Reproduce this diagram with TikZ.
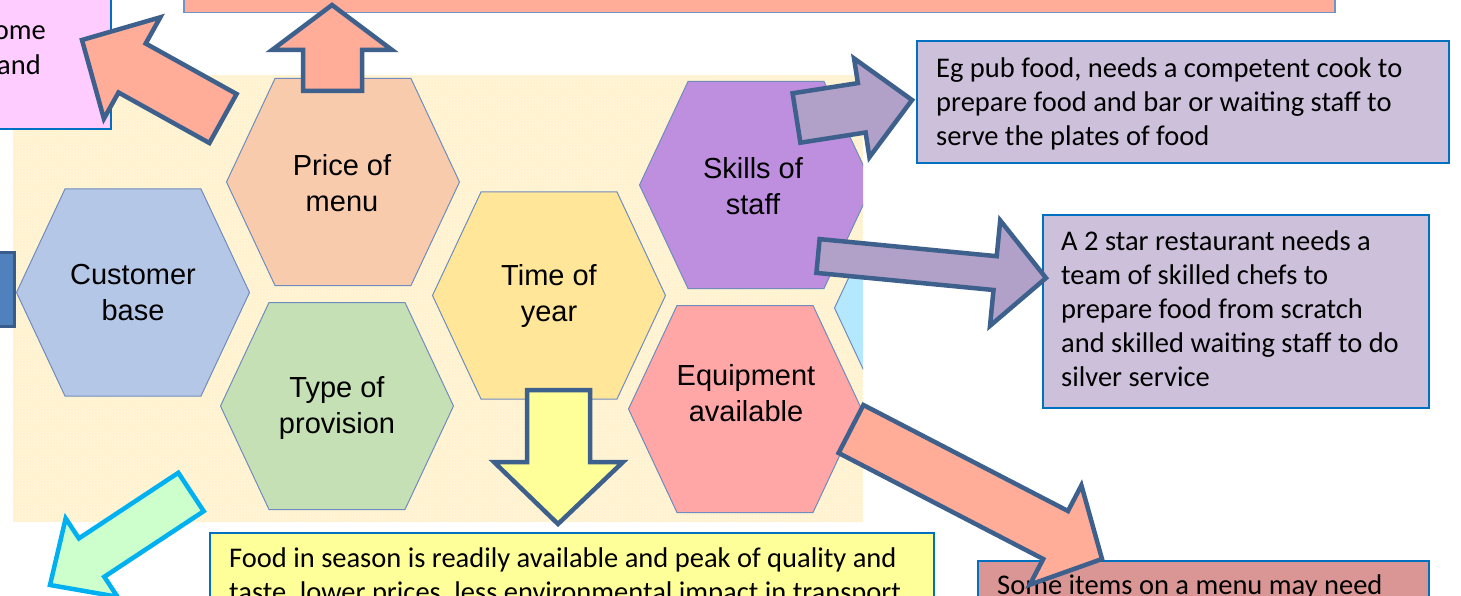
\documentclass[tikz,border=0pt]{standalone}
\usepackage{fontspec}
\setmainfont{Carlito}
\newfontfamily\hexfont{Liberation Sans}
\usetikzlibrary{patterns}

\definecolor{bgcream}{RGB}{255,242,206}
\definecolor{hexedge}{RGB}{112,140,190}
\definecolor{boxedge}{RGB}{0,112,192}
\definecolor{baredge}{RGB}{110,148,200}
\definecolor{arrowedge}{RGB}{62,96,140}
\definecolor{salmon}{RGB}{255,172,152}
\definecolor{pinkbox}{RGB}{255,204,255}
\definecolor{lilacbox}{RGB}{204,192,218}
\definecolor{lilacarrow}{RGB}{177,160,199}
\definecolor{lemon}{RGB}{255,255,153}
\definecolor{rosebox}{RGB}{217,150,148}
\definecolor{mint}{RGB}{204,255,204}
\definecolor{cyanedge}{RGB}{0,176,240}
\definecolor{navyfill}{RGB}{79,129,189}
\definecolor{navyedge}{RGB}{56,93,138}
\definecolor{hexpeach}{RGB}{248,203,173}
\definecolor{hexblue}{RGB}{180,199,231}
\definecolor{hexgreen}{RGB}{197,224,180}
\definecolor{hexyellow}{RGB}{255,230,153}
\definecolor{hexpurple}{RGB}{190,143,222}
\definecolor{hexred}{RGB}{255,166,166}
\definecolor{hexsky}{RGB}{180,232,255}

\newcommand{\hexcell}[3]{\filldraw[hexline,fill=#3] (#1-116.5,#2) -- (#1-68,#2-103.5) -- (#1+68,#2-103.5) -- (#1+116.5,#2) -- (#1+68,#2+103.5) -- (#1-68,#2+103.5) -- cycle;}

\begin{document}
\begin{tikzpicture}[x=1pt,y=-1pt,
        hexline/.style={draw=hexedge,line width=1pt},
        hextext/.style={font=\hexfont\fontsize{29}{36}\selectfont,align=center,inner sep=0pt},
        infobox/.style={draw=boxedge,line width=2pt,anchor=north west,inner sep=0pt},
        infotext/.style={font=\fontsize{28.5}{34}\selectfont,align=left,anchor=north west,inner sep=0pt},
        blockarrow/.style={draw=arrowedge,line width=4.5pt,line join=miter}]
        \useasboundingbox (0,0) rectangle (1461,596);
        \clip (0,0) rectangle (1461,596);
        \fill[bgcream] (13,75) rectangle (863,522);
        \fill[pattern=crosshatch dots,pattern color=white!60!bgcream] (13,75) rectangle (863,522);
        \begin{scope}
            \clip (13,75) rectangle (863,522);
            \hexcell{133}{292.5}{hexblue}
            \hexcell{343}{182}{hexpeach}
            \hexcell{337}{406}{hexgreen}
            \hexcell{549}{295.5}{hexyellow}
            \hexcell{756}{185}{hexpurple}
            \hexcell{745}{409}{hexred}
            \hexcell{951}{308}{hexsky}
        \end{scope}
        \node[hextext] (customer) at (133,293) {Customer\\base};
        \node[hextext] (price) at (342,183) {Price of\\menu};
        \node[hextext] (provision) at (337,408) {Type of\\provision};
        \node[hextext] (season) at (549,296) {Time of\\year};
        \node[hextext] (skills) at (753,186) {Skills of\\staff};
        \node[hextext] (equipment) at (746,393) {Equipment\\available};
        \node[infobox,draw=baredge,line width=1.5pt,fill=salmon,minimum width=1151pt,minimum height=30pt] (topbar) at (183,-18) {};
        \node[infobox,fill=pinkbox,minimum width=120pt,minimum height=138pt] (incomebox) at (-10,-10) {};
        \node[infotext,anchor=base east] (incomeA) at (46,40) {ome};
        \node[infotext,anchor=base east] (incomeB) at (41,75) {and};
        \node[infobox,fill=lilacbox,minimum width=532pt,minimum height=122pt] (pubbox) at (916,40) {};
        \node[infotext] (pubtext) at (936,53.2) {\strut Eg pub food, needs a competent cook to\\prepare food and bar or waiting staff to\\serve the plates of food};
        \node[infobox,fill=lilacbox,minimum width=386pt,minimum height=193pt] (starbox) at (1042,214) {};
        \node[infotext] (startext) at (1061,226.2) {\strut A 2 star restaurant needs a\\team of skilled chefs to\\prepare food from scratch\\and skilled waiting staff to do\\silver service};
        \node[infobox,fill=lemon,minimum width=724pt,minimum height=90pt] (seasonbox) at (209,532) {};
        \node[infotext] (seasontext) at (229,543.2) {\strut Food in season is readily available and peak of quality and\\taste, lower prices, less environmental impact in transport};
        \node[infobox,fill=rosebox,minimum width=451pt,minimum height=60pt] (itemsbox) at (977,560) {};
        \node[infotext] (itemstext) at (997,570.2) {\strut Some items on a menu may need};
        \filldraw[draw=navyedge,fill=navyfill,line width=3pt] (-10,252) rectangle (14,326);
        \filldraw[blockarrow,fill=salmon] (236.6,94) -- (145.7,43.5) -- (160.3,17.3) -- (82,40) -- (103.9,118.7) -- (118.5,92.5) -- (209.4,143) -- cycle;
        \filldraw[blockarrow,fill=salmon] (303,91) -- (303,50) -- (272,50) -- (332,5) -- (392,50) -- (362,50) -- (362,91) -- cycle;
        \filldraw[blockarrow,fill=lilacarrow] (792.6,93.3) -- (857.9,83.1) -- (854,58.4) -- (912,100) -- (869.4,157.2) -- (865.6,132.5) -- (800.4,142.7) -- cycle;
        \filldraw[blockarrow,fill=lilacarrow] (819.6,239.1) -- (996.7,256.2) -- (1000.2,220.4) -- (1046,278) -- (990,325.8) -- (993.5,290) -- (816.4,272.9) -- cycle;
        \filldraw[blockarrow,fill=salmon] (863.4,405) -- (1068,511) -- (1081.4,485.3) -- (1102,559) -- (1029.8,584.7) -- (1043.2,559) -- (838.6,453) -- cycle;
        \filldraw[blockarrow,fill=lemon] (527,390) -- (590,390) -- (590,462) -- (623,462) -- (558,524) -- (494,462) -- (527,462) -- cycle;
        \filldraw[blockarrow,draw=cyanedge,fill=mint] (178.3,472.8) -- (78.9,538.4) -- (65.7,518.4) -- (50,585) -- (117.5,596.8) -- (104.3,576.8) -- (203.7,511.2) -- cycle;
    \end{tikzpicture}
\end{document}
